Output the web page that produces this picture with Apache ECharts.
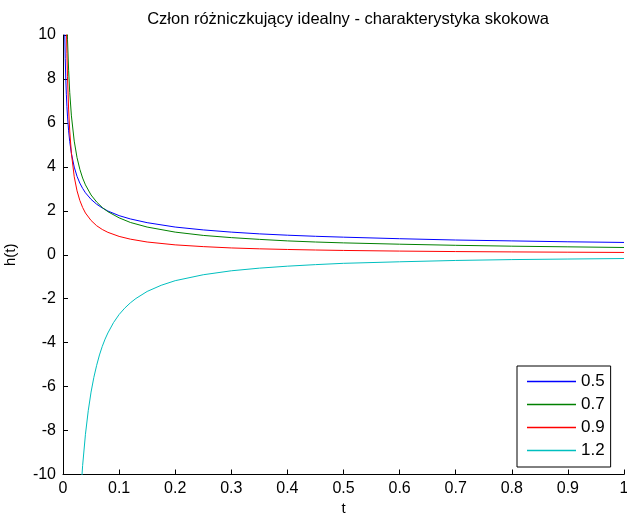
<!DOCTYPE html>
<html>
<head>
<meta charset="utf-8">
<script src="https://cdn.jsdelivr.net/npm/echarts@6/dist/echarts.min.js"></script>
<style>html,body{margin:0;padding:0;background:#fff}#c{width:627px;height:515px}</style>
</head>
<body>
<div id="c"></div>
<script>
var titleText = 'Człon różniczkujący idealny - charakterystyka skokowa';
var legendNames = ['0.5', '0.7', '0.9', '1.2'];
var xTicks = [0, 0.1, 0.2, 0.3, 0.4, 0.5, 0.6, 0.7, 0.8, 0.9, 1];
var yTicks = [-10, -8, -6, -4, -2, 0, 2, 4, 6, 8, 10];

var t = [0.002, 0.003, 0.004, 0.005, 0.006, 0.007, 0.008, 0.01, 0.012, 0.015, 0.02, 0.025, 0.03, 0.035, 0.04, 0.05, 0.06, 0.07, 0.08, 0.1, 0.12, 0.15, 0.2, 0.25, 0.3, 0.35, 0.4, 0.45, 0.5, 0.6, 0.7, 0.8, 0.9, 1.0];
var h05 = [12.6, 10.3, 8.92, 7.98, 7.28, 6.74, 6.31, 5.64, 5.15, 4.61, 3.99, 3.57, 3.26, 3.02, 2.82, 2.52, 2.30, 2.13, 1.99, 1.78, 1.63, 1.46, 1.26, 1.13, 1.03, 0.95, 0.89, 0.84, 0.80, 0.73, 0.67, 0.63, 0.59, 0.56];
var h07 = [25.9, 19.5, 15.9, 13.6, 12.0, 10.8, 9.81, 8.40, 7.39, 6.32, 5.17, 4.42, 3.89, 3.49, 3.18, 2.72, 2.40, 2.15, 1.96, 1.68, 1.47, 1.26, 1.03, 0.88, 0.78, 0.70, 0.63, 0.58, 0.54, 0.48, 0.43, 0.39, 0.36, 0.33];
var h09 = [28.2, 19.6, 15.1, 12.4, 10.5, 9.15, 8.10, 6.63, 5.63, 4.61, 3.55, 2.91, 2.47, 2.15, 1.90, 1.56, 1.32, 1.15, 1.02, 0.835, 0.71, 0.58, 0.45, 0.37, 0.31, 0.27, 0.24, 0.216, 0.196, 0.167, 0.145, 0.129, 0.116, 0.105];
var t12 = [0.02, 0.025, 0.03, 0.035, 0.04, 0.045, 0.05, 0.055, 0.06, 0.065, 0.07, 0.075, 0.08, 0.09, 0.1, 0.11, 0.12, 0.13, 0.15, 0.175, 0.2, 0.25, 0.3, 0.35, 0.4, 0.45, 0.5, 0.6, 0.7, 0.8, 0.9, 1.0];
var h12 = [-18.8, -14.4, -11.5, -9.59, -8.17, -7.10, -6.25, -5.58, -5.03, -4.56, -4.17, -3.84, -3.56, -3.09, -2.72, -2.43, -2.19, -1.99, -1.67, -1.39, -1.18, -0.91, -0.73, -0.61, -0.52, -0.45, -0.39, -0.32, -0.26, -0.22, -0.195, -0.172];

function pairs(xs, ys) { return xs.map(function (x, i) { return [x, ys[i]]; }); }

var colors = ['#0000ff', '#008000', '#ff0000', '#00bfbf'];
var seriesData = [pairs(t, h05), pairs(t, h07), pairs(t, h09), pairs(t12, h12)];
var FONT = 'Liberation Sans, Arial, sans-serif';

var chart = echarts.init(document.getElementById('c'), null, {renderer: 'canvas'});
chart.setOption({
  animation: false,
  backgroundColor: '#ffffff',
  title: {
    text: titleText, left: 343, top: 6, textAlign: 'center',
    textStyle: {fontFamily: FONT, fontSize: 16.5, fontWeight: 'normal', color: '#000'}
  },
  grid: {left: 63, right: 3, top: 35, bottom: 40.5, containLabel: false, outerBoundsMode: 'none'},
  legend: {
    orient: 'vertical', left: 517, top: 366,
    data: legendNames,
    icon: 'rect', itemWidth: 49, itemHeight: 1.5, itemGap: 6,
    padding: [7, 6, 8, 10],
    backgroundColor: '#fff', borderColor: '#000', borderWidth: 1,
    textStyle: {fontFamily: FONT, fontSize: 17, color: '#000', lineHeight: 17}
  },
  xAxis: {
    type: 'value', min: 0, max: 1, interval: 0.1,
    name: 't', nameLocation: 'middle', nameGap: 23,
    nameTextStyle: {fontFamily: FONT, fontSize: 15, color: '#000'},
    axisLine: {show: true, onZero: false, lineStyle: {color: '#000', width: 1}},
    axisTick: {show: true, inside: true, length: 5, lineStyle: {color: '#000'}},
    axisLabel: {fontFamily: FONT, fontSize: 16, color: '#000', margin: 6,
      formatter: function (v) { return String(Math.round(v * 10) / 10); }},
    splitLine: {show: false}
  },
  yAxis: {
    type: 'value', min: -10, max: 10, interval: 2,
    name: 'h(t)', nameLocation: 'middle', nameGap: 45, nameRotate: 90,
    nameTextStyle: {fontFamily: FONT, fontSize: 15, color: '#000'},
    axisLine: {show: true, onZero: false, lineStyle: {color: '#000', width: 1}},
    axisTick: {show: true, inside: true, length: 5, lineStyle: {color: '#000'}},
    axisLabel: {fontFamily: FONT, fontSize: 16, color: '#000', margin: 7},
    splitLine: {show: false}
  },
  series: legendNames.map(function (n, i) {
    return {
      name: n, type: 'line', data: seriesData[i], showSymbol: false, symbol: 'none',
      clip: true, lineStyle: {color: colors[i], width: 1}, itemStyle: {color: colors[i]}
    };
  })
});
</script>
</body>
</html>
